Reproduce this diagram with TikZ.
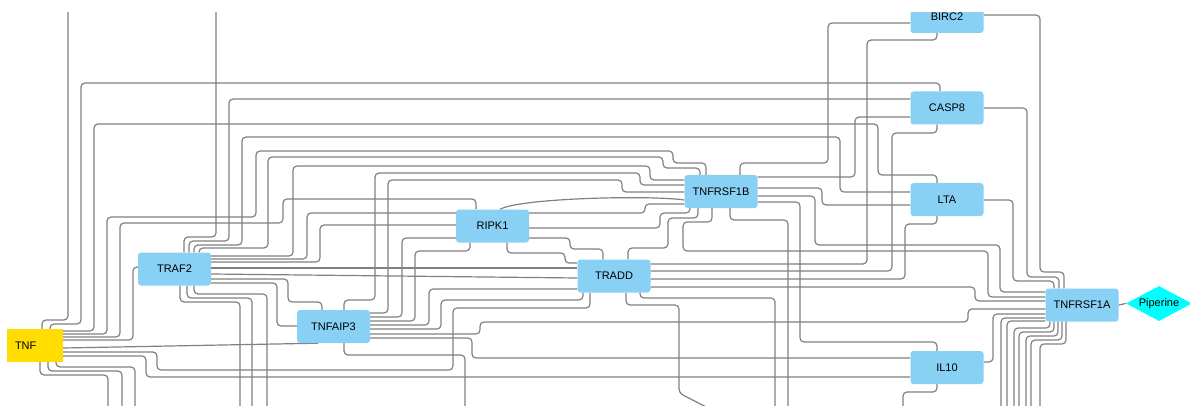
\documentclass[tikz,border=0pt]{standalone}
\usepackage{fontspec}
\setmainfont{Liberation Sans}
\usetikzlibrary{shapes.geometric,backgrounds}
\definecolor{nodeblue}{RGB}{137,208,245}
\definecolor{nodeyellow}{RGB}{255,221,0}
\definecolor{drugcyan}{RGB}{0,255,255}
\definecolor{edgegray}{RGB}{128,128,128}
\tikzset{
  gene/.style={draw=none,fill=nodeblue,rounded corners=3pt,minimum width=73pt,minimum height=33pt,inner sep=0pt,font=\fontsize{11}{13}\selectfont},
  seed/.style={draw=none,fill=nodeyellow,minimum height=33pt,inner xsep=8pt,inner ysep=0pt,text width=40pt,align=left,font=\fontsize{11}{13}\selectfont},
  drug/.style={diamond,draw=none,fill=drugcyan,minimum width=66pt,minimum height=35pt,inner sep=0pt},
  ed/.style={draw=edgegray,line width=1.2pt,rounded corners=4pt}
}
\begin{document}
\begin{tikzpicture}[x=1pt,y=-1pt]
\useasboundingbox (0,0) rectangle (1190,406);
\begin{scope}
\clip (0,13) rectangle (1190,406);
\node[seed] (TNF) at (35,345.5) {TNF};
\node[gene] (TRAF2) at (174.5,269) {TRAF2};
\node[gene] (TNFAIP3) at (333.5,326.5) {TNFAIP3};
\node[gene] (RIPK1) at (492.5,226) {RIPK1};
\node[gene] (TRADD) at (614,276) {TRADD};
\node[gene] (TNFRSF1B) at (721,191.5) {TNFRSF1B};
\node[gene] (BIRC2) at (947,16.5) {BIRC2};
\node[gene] (CASP8) at (947,108) {CASP8};
\node[gene] (LTA) at (947,199.5) {LTA};
\node[gene] (IL10) at (947,367.5) {IL10};
\node[gene] (TNFRSF1A) at (1082,305) {TNFRSF1A};
\node[drug,label={[font=\fontsize{11}{13}\selectfont]center:Piperine}] (Piperine) at (1159,303.5) {};
\end{scope}
\begin{pgfonlayer}{background}
\begin{scope}
\clip (0,13) rectangle (1190,406);
% ---- TNF
\draw[ed] (TNF.north -| 42,0) -- (42,320) -- (68,320) -- (68,0);
\draw[ed] (TNF.north -| 50,0) -- (50,324) -- (81,324) -- (81,83) -- (940,83) -- (CASP8.north -| 940,0);
\draw[ed] (TNF.east |- 0,331) -- (94,331) -- (94,124) -- (878,124) -- (878,175) -- (937,175) -- (LTA.north -| 937,0);
\draw[ed] (TNF.east |- 0,334) -- (107,334) -- (107,217) -- (256,217) -- (256,151) -- (673,151) -- (673,163) -- (706,163) -- (TNFRSF1B.north -| 706,0);
\draw[ed] (TNF.east |- 0,337) -- (120,337) -- (120,223) -- (283,223) -- (283,199) -- (476,199) -- (RIPK1.north -| 476,0);
\draw[ed] (TNF.east |- 0,340) -- (133,340) -- (133,267) -- (TRAF2.west |- 0,267);
\draw[ed] (TNF.east |- 0,348) -- (TNFAIP3.south -| 318,0);
\draw[ed] (TNF.east |- 0,352) -- (157,352) -- (157,370) -- (453,370) -- (453,308) -- (590,308) -- (TRADD.south -| 590,0);
\draw[ed] (TNF.east |- 0,356) -- (146,356) -- (146,377) -- (IL10.west |- 0,377);
\draw[ed] (TNF.south -| 56,0) -- (56,367) -- (135,367) -- (135,410);
\draw[ed] (TNF.south -| 48,0) -- (48,371) -- (122,371) -- (122,410);
\draw[ed] (TNF.south -| 40,0) -- (40,375) -- (108,375) -- (108,410);
% ---- TRAF2
\draw[ed] (TRAF2.north -| 184,0) -- (184,237) -- (216,237) -- (216,0);
\draw[ed] (TRAF2.north -| 189,0) -- (189,241) -- (229,241) -- (229,99) -- (CASP8.west |- 0,99);
\draw[ed] (TRAF2.north -| 194,0) -- (194,245) -- (242,245) -- (242,137) -- (840,137) -- (840,192) -- (LTA.west |- 0,192);
\draw[ed] (TRAF2.north -| 199,0) -- (199,248) -- (268,248) -- (268,157) -- (663,157) -- (663,168) -- (700,168) -- (TNFRSF1B.north -| 700,0);
\draw[ed] (TRAF2.east |- 0,256) -- (293,256) -- (293,166) -- (650,166) -- (650,180) -- (TNFRSF1B.west |- 0,180);
\draw[ed] (TRAF2.east |- 0,259) -- (307,259) -- (307,213) -- (645,213) -- (645,204) -- (TNFRSF1B.west |- 0,204);
\draw[ed] (TRAF2.east |- 0,262) -- (320,262) -- (320,225) -- (RIPK1.west |- 0,225);
\draw[ed] (TRAF2.east |- 0,268) -- (TRADD.west |- 0,268);
\draw[ed] (TRAF2.east |- 0,274) -- (TRADD.west |- 0,278);
\draw[ed] (TRAF2.east |- 0,279) -- (288,279) -- (288,302) -- (322,302) -- (TNFAIP3.north -| 322,0);
\draw[ed] (TRAF2.east |- 0,283) -- (277,283) -- (277,326) -- (TNFAIP3.west |- 0,326);
\draw[ed] (TRAF2.south -| 194,0) -- (194,294) -- (267,294) -- (267,410);
\draw[ed] (TRAF2.south -| 187,0) -- (187,298) -- (252,298) -- (252,410);
\draw[ed] (TRAF2.south -| 180,0) -- (180,302) -- (240,302) -- (240,410);
% ---- TNFAIP3
\draw[ed] (TNFAIP3.north -| 344,0) -- (344,300) -- (375,300) -- (375,173) -- (640,173) -- (640,185) -- (TNFRSF1B.west |- 0,185);
\draw[ed] (TNFAIP3.east |- 0,313) -- (388,313) -- (388,180) -- (622,180) -- (622,192) -- (TNFRSF1B.west |- 0,192);
\draw[ed] (TNFAIP3.east |- 0,317) -- (402,317) -- (402,238) -- (RIPK1.west |- 0,238);
\draw[ed] (TNFAIP3.east |- 0,321) -- (415,321) -- (415,251) -- (470,251) -- (RIPK1.south -| 470,0);
\draw[ed] (TNFAIP3.east |- 0,325) -- (429,325) -- (429,289) -- (TRADD.west |- 0,289);
\draw[ed] (TNFAIP3.east |- 0,329) -- (441,329) -- (441,300) -- (583,300) -- (TRADD.south -| 583,0);
\draw[ed] (TNFAIP3.east |- 0,334) -- (480,334) -- (480,322) -- (968,322) -- (968,309) -- (TNFRSF1A.west |- 0,309);
\draw[ed] (TNFAIP3.east |- 0,338) -- (472,338) -- (472,358) -- (IL10.west |- 0,358);
\draw[ed] (TNFAIP3.south -| 344,0) -- (344,355) -- (465,355) -- (465,410);
% ---- RIPK1
\draw[ed] (RIPK1.north -| 500,0) .. controls (520,198) and (650,195) .. (TNFRSF1B.west |- 0,200);
\draw[ed] (RIPK1.east |- 0,228) -- (660,228) -- (660,213) -- (690,213) -- (TNFRSF1B.south -| 690,0);
\draw[ed] (RIPK1.east |- 0,238) -- (570,238) -- (570,249) -- (603,249) -- (TRADD.north -| 603,0);
\draw[ed] (RIPK1.south -| 507,0) -- (507,253) -- (565,253) -- (565,263) -- (TRADD.west |- 0,263);
% ---- TRADD
\draw[ed] (TRADD.north -| 628,0) -- (628,248) -- (668,248) -- (668,218) -- (698,218) -- (TNFRSF1B.south -| 698,0);
\draw[ed] (TRADD.east |- 0,264) -- (867,264) -- (867,40) -- (937,40) -- (BIRC2.south -| 937,0);
\draw[ed] (TRADD.east |- 0,271) -- (892,271) -- (892,133) -- (937,133) -- (CASP8.south -| 937,0);
\draw[ed] (TRADD.east |- 0,279) -- (905,279) -- (905,224) -- (937,224) -- (LTA.south -| 937,0);
\draw[ed] (TRADD.east |- 0,287) -- (975,287) -- (975,301) -- (TNFRSF1A.west |- 0,301);
\draw[ed] (TRADD.south -| 640,0) -- (640,298) -- (775,298) -- (775,410);
\draw[ed] (TRADD.south -| 626,0) -- (626,305) -- (679,305) -- (679,393) -- (712,410);
% ---- TNFRSF1B
\draw[ed] (TNFRSF1B.south -| 712,0) -- (712,222) -- (683,222) -- (683,251) -- (988,251) -- (988,297) -- (TNFRSF1A.west |- 0,297);
\draw[ed] (TNFRSF1B.south -| 730,0) -- (730,220) -- (788,220) -- (788,410);
\draw[ed] (TNFRSF1B.east |- 0,188) -- (822,188) -- (822,205) -- (LTA.west |- 0,205);
\draw[ed] (TNFRSF1B.east |- 0,196) -- (815,196) -- (815,245) -- (1000,245) -- (1000,292) -- (TNFRSF1A.west |- 0,292);
\draw[ed] (TNFRSF1B.east |- 0,202) -- (800,202) -- (800,342) -- (937,342) -- (IL10.north -| 937,0);
% ---- BIRC2, CASP8, LTA
\draw[ed] (BIRC2.west |- 0,23) -- (828,23) -- (828,163) -- (740,163) -- (TNFRSF1B.north -| 740,0);
\draw[ed] (BIRC2.east |- 0,15) -- (1040,15) -- (1040,272) -- (1064,272) -- (TNFRSF1A.north -| 1064,0);
\draw[ed] (CASP8.west |- 0,117) -- (855,117) -- (855,177) -- (TNFRSF1B.east |- 0,177);
\draw[ed] (CASP8.east |- 0,108) -- (1027,108) -- (1027,277) -- (1059,277) -- (TNFRSF1A.north -| 1059,0);
\draw[ed] (LTA.east |- 0,200) -- (1013,200) -- (1013,281) -- (1054,281) -- (TNFRSF1A.north -| 1054,0);
% ---- IL10
\draw[ed] (IL10.east |- 0,362) -- (993,362) -- (993,314) -- (TNFRSF1A.west |- 0,314);
\draw[ed] (IL10.south -| 937,0) -- (937,392) -- (903,392) -- (903,410);
% ---- TNFRSF1A
\draw[ed] (TNFRSF1A.west |- 0,318) -- (1001,318) -- (1001,410);
\draw[ed] (TNFRSF1A.west |- 0,321) -- (1007,321) -- (1007,410);
\draw[ed] (TNFRSF1A.south -| 1050,0) -- (1050,328) -- (1014,328) -- (1014,410);
\draw[ed] (TNFRSF1A.south -| 1054,0) -- (1054,332) -- (1019,332) -- (1019,410);
\draw[ed] (TNFRSF1A.south -| 1058,0) -- (1058,336) -- (1026,336) -- (1026,410);
\draw[ed] (TNFRSF1A.south -| 1062,0) -- (1062,340) -- (1031,340) -- (1031,410);
\draw[ed] (TNFRSF1A.south -| 1066,0) -- (1066,344) -- (1040,344) -- (1040,410);
\draw[ed] (TNFRSF1A.east) -- (Piperine.west);
\end{scope}
\end{pgfonlayer}
\end{tikzpicture}
\end{document}
